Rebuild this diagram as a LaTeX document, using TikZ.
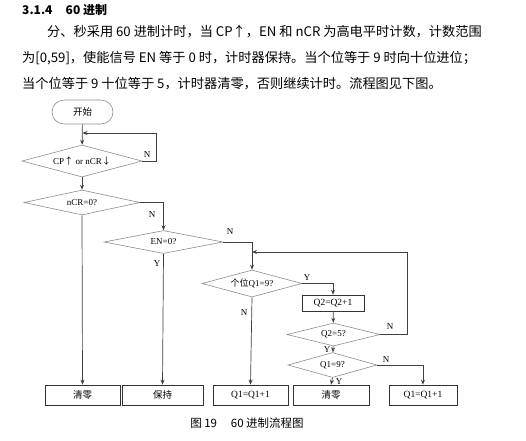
\documentclass[tikz,border=0pt]{standalone}
\usepackage{fontspec}
\setmainfont{Liberation Serif}
\newfontfamily\cjk{Noto Sans CJK SC}
\usetikzlibrary{shapes.geometric,arrows.meta}
\begin{document}
\begin{tikzpicture}[x=1pt,y=-1pt,
  every node/.style={inner sep=0pt},
  dia/.style={diamond, draw=black!45, line width=0.6pt, font=\fontsize{9}{10}\selectfont},
  box/.style={rectangle, draw=black!80, line width=0.7pt, minimum height=20pt, font=\cjk\fontsize{9.5}{10}\selectfont},
  conn/.style={draw=black!75, line width=0.7pt, -{Stealth[length=5pt,width=4pt]}},
  line/.style={draw=black!75, line width=0.7pt},
  lab/.style={font=\fontsize{9}{10}\selectfont},
  para/.style={anchor=west, font=\cjk\fontsize{13.2}{15}\selectfont}]
\useasboundingbox (0,0) rectangle (526,440);
% header and paragraph
\node[anchor=west, font=\cjk\bfseries\fontsize{12}{14}\selectfont] (hdr) at (22,10) {3.1.4\hspace{1.1em}60 进制};
\node[para] (p1) at (47,32) {分、秒采用 60 进制计时，当 CP↑，EN 和 nCR 为高电平时计数，计数范围};
\node[para] (p2) at (22,58) {为[0,59]，使能信号 EN 等于 0 时，计时器保持。当个位等于 9 时向十位进位；};
\node[para] (p3) at (22,84) {当个位等于 9 十位等于 5，计时器清零，否则继续计时。流程图见下图。};
% flowchart nodes
\node[draw=black!45, line width=0.6pt, rounded corners=12pt, minimum width=61pt, minimum height=24pt, font=\cjk\fontsize{9.5}{10}\selectfont] (start) at (82.5,112) {开始};
\node[dia, aspect=3.75, minimum width=120pt, minimum height=32pt] (d1) at (82,161) {CP{\cjk↑} or nCR{\cjk↓}};
\node[dia, aspect=4.64, minimum width=116pt, minimum height=25pt] (d2) at (82,202.5) {nCR=0?};
\node[dia, aspect=5.2, minimum width=119pt, minimum height=23pt] (en) at (163.5,242) {EN=0?};
\node[dia, aspect=3.7, minimum width=100pt, minimum height=27pt] (q1) at (252,283.5) {{\cjk 个位}Q1=9?};
\node[box, minimum width=62pt, minimum height=16pt, font=\fontsize{9.5}{10}\selectfont] (q2inc) at (333,303) {Q2=Q2+1};
\node[dia, aspect=4.04, minimum width=93pt, minimum height=23pt] (q25) at (333.5,334.5) {Q2=5?};
\node[dia, aspect=3.56, minimum width=89pt, minimum height=25pt] (q19) at (332.5,365) {Q1=9?};
\node[box, minimum width=75pt] (b1) at (82.5,395) {清零};
\node[box, minimum width=81pt] (b2) at (162.5,395) {保持};
\node[box, minimum width=75pt, font=\fontsize{9.5}{10}\selectfont] (b3) at (250.5,395) {Q1=Q1+1};
\node[box, minimum width=76pt] (b4) at (331,395) {清零};
\node[box, minimum width=68pt, font=\fontsize{9.5}{10}\selectfont] (b5) at (423,395) {Q1=Q1+1};
% helper coordinates
\coordinate (loopR) at (156,133);
\coordinate (loopL) at (82.5,133);
\coordinate (backR) at (407,252);
\coordinate (backL) at (252,252);
% connectors
\draw[conn] (start) -- (d1);
\draw[line] (d1.east) -| (loopR);
\draw[conn] (loopR) -- (loopL);
\draw[conn] (d1) -- (d2);
\draw[conn] (d2.east) -| (en.north);
\draw[conn] (d2.south) -- (b1.north);
\draw[conn] (en.south) -- (b2.north);
\draw[conn] (en.east) -| (q1.north);
\draw[conn] (q1.east) -| (q2inc.north);
\draw[conn] (q1.south) -- (b3.north);
\draw[conn] (q2inc) -- (q25);
\draw[line] (q25.east) -| (backR);
\draw[conn] (backR) -- (backL);
\draw[conn] (q25) -- (q19);
\draw[conn] (q19.east) -| (b5.north);
\draw[conn] (q19.south) -- (b4.north);
% labels
\node[lab] (l1) at (147,155) {N};
\node[lab] (l2) at (152,215) {N};
\node[lab] (l3) at (230,232) {N};
\node[lab] (l4) at (157,264) {Y};
\node[lab] (l5) at (307,278) {Y};
\node[lab] (l6) at (244,313) {N};
\node[lab] (l7) at (390,327) {N};
\node[lab] (l8) at (327,350) {Y};
\node[lab] (l9) at (386,360) {N};
\node[lab] (l10) at (339,382) {Y};
% caption
\node[font=\cjk\fontsize{11.5}{13}\selectfont] (cap) at (247,423) {图 19\hspace{1.2em}60 进制流程图};
\end{tikzpicture}
\end{document}
